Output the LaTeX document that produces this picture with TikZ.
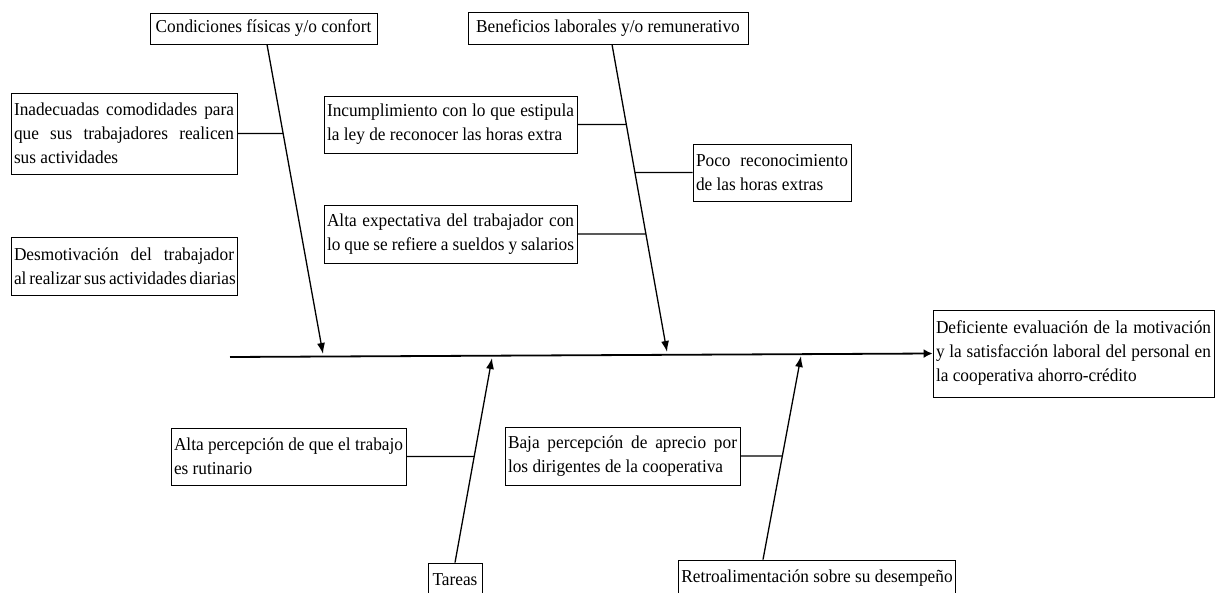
\documentclass[tikz,border=0pt]{standalone}
\usepackage{fontspec}
\setmainfont{Liberation Serif}[FakeStretch=0.95]
\usetikzlibrary{arrows.meta,calc}
\newcommand{\boxfont}{\fontsize{18.2}{24}\selectfont\hyphenpenalty=10000\exhyphenpenalty=10000}
\tikzset{
  box/.style={draw, line width=0.8pt, inner xsep=3pt, inner ysep=0pt, font=\boxfont, align=justify},
  onebox/.style={draw, line width=0.8pt, inner xsep=3pt, inner ysep=0pt, font=\boxfont, align=center},
  bone/.style={line width=1.3pt, -{Latex[length=11pt,width=8pt]}},
  spine/.style={line width=1.8pt, -{Latex[length=9pt,width=9pt]}},
  branch/.style={line width=1.3pt}
}
\begin{document}
\begin{tikzpicture}[x=1pt,y=-1pt]
\useasboundingbox (0,0) rectangle (1217,593);
\clip (0,0) rectangle (1217,593);
% boxes
\node[onebox, minimum width=227pt, minimum height=31pt] (cond) at (263.5,28.5) {Condiciones~físicas~y/o~confort};
\node[onebox, minimum width=280pt, minimum height=32pt] (benef) at (608,28) {Beneficios~laborales~y/o~remunerativo};
\node[box, text width=220pt, minimum height=81pt] (inad) at (124,133.5) {Inadecuadas~comodidades~para\linebreak que~sus~trabajadores~realicen\linebreak sus~actividades};
\node[box, text width=220pt, minimum height=58pt] (desm) at (124,266) {Desmotivación~del~trabajador\linebreak al~realizar~sus~actividades~diarias};
\node[box, text width=247pt, minimum height=57pt] (incum) at (450.5,124.5) {Incumplimiento~con~lo~que~estipula\linebreak la~ley~de~reconocer~las~horas~extra};
\node[box, text width=247pt, minimum height=58pt] (altaexp) at (450.5,234) {Alta~expectativa~del~trabajador~con\linebreak lo~que~se~refiere~a~sueldos~y~salarios};
\node[box, text width=152pt, minimum height=57pt] (poco) at (772,172.5) {Poco~reconocimiento\linebreak de~las~horas~extras};
\node[box, text width=275pt, minimum height=87pt] (defi) at (1073.5,353.5) {Deficiente~evaluación~de~la~motivación\linebreak y~la~satisfacción~laboral~del~personal~en\linebreak la~cooperativa~ahorro-crédito};
\node[box, text width=229pt, minimum height=57pt] (altaperc) at (288.5,456.5) {Alta~percepción~de~que~el~trabajo\linebreak es~rutinario};
\node[box, text width=229pt, minimum height=58pt] (baja) at (622.5,456) {Baja~percepción~de~aprecio~por\linebreak los~dirigentes~de~la~cooperativa};
\node[onebox, minimum width=54pt, minimum height=33pt] (tareas) at (455,579.5) {Tareas};
\node[onebox, minimum width=266pt, minimum height=36pt] (retro) at (817,578) {Retroalimentación~sobre~su~desempeño};
% key points
\coordinate (sp0) at (230,357);
\coordinate (cTop) at (cond.south -| 267,0);
\coordinate (cTip) at (323,354);
\coordinate (bTop) at (benef.south -| 612,0);
\coordinate (bTip) at (667,352);
\coordinate (tBot) at (tareas.north);
\coordinate (tTip) at (492,358);
\coordinate (rBot) at (retro.north -| 763,0);
\coordinate (rTip) at (801,356);
% spine
\draw[spine] (sp0) -- (defi.west);
% bones
\draw[bone] (cTop) -- (cTip);
\draw[bone] (bTop) -- (bTip);
\draw[bone] (tBot) -- (tTip);
\draw[bone] (rBot) -- (rTip);
% branches
\draw[branch] (inad.east) -- (intersection of inad.west--inad.east and cTop--cTip);
\draw[branch] (incum.east) -- (intersection of incum.west--incum.east and bTop--bTip);
\draw[branch] (altaexp.east) -- (intersection of altaexp.west--altaexp.east and bTop--bTip);
\draw[branch] (poco.west) -- (intersection of poco.west--poco.east and bTop--bTip);
\draw[branch] (altaperc.east) -- (intersection of altaperc.west--altaperc.east and tBot--tTip);
\draw[branch] (baja.east) -- (intersection of baja.west--baja.east and rBot--rTip);
\end{tikzpicture}
\end{document}
